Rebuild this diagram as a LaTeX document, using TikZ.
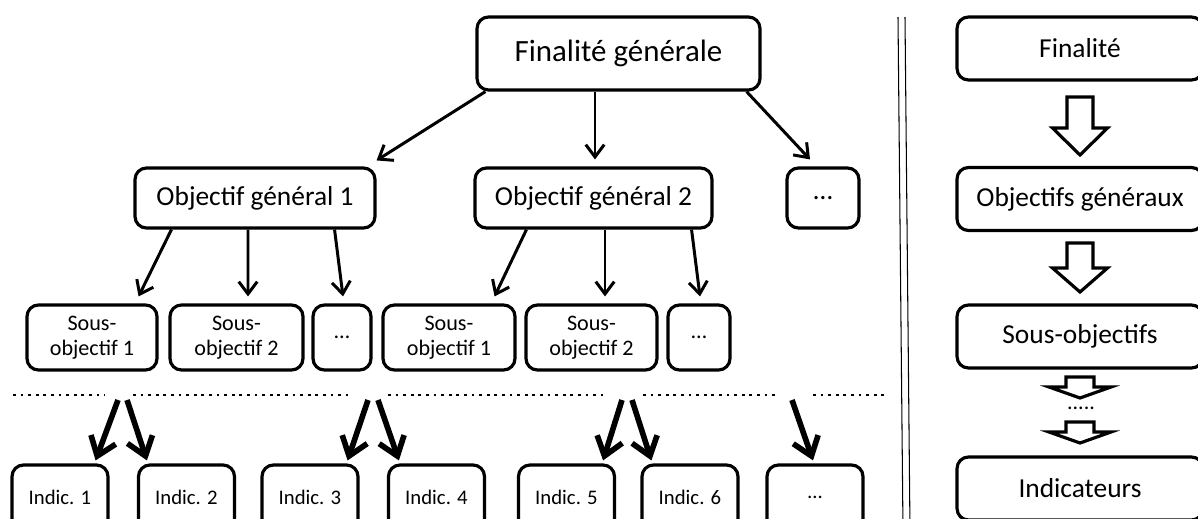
\documentclass[tikz,border=0pt]{standalone}
\usepackage{fontspec}
\setmainfont{Carlito}
\usetikzlibrary{arrows.meta, positioning, calc}

\begin{document}
\begin{tikzpicture}[
        x=0.02cm, y=-0.02cm,
        box/.style={rectangle, draw, line width=1.8pt, rounded corners=6.5pt, align=center, inner sep=0pt},
        big/.style={box, font=\fontsize{17.6pt}{21pt}\selectfont},
        mid/.style={box, font=\fontsize{15.6pt}{18pt}\selectfont, minimum height=1.2cm},
        sub/.style={box, font=\fontsize{12.6pt}{14pt}\selectfont, minimum height=1.3cm},
        ind/.style={box, font=\fontsize{11.8pt}{14pt}\selectfont, minimum height=1.3cm, minimum width=1.92cm},
        side/.style={box, font=\fontsize{15.6pt}{18pt}\selectfont, minimum height=1.26cm, minimum width=4.92cm},
        arrow/.style={line width=1.7pt, -{Straight Barb[length=7pt, width=10.5pt]}},
        bigarrow/.style={line width=3.2pt, -{Straight Barb[length=10pt, width=15pt]}},
        dotline/.style={line width=0.055cm, dash pattern=on 0.055cm off 0.097cm},
        hollow/.style={draw, line width=1.8pt, line join=miter, fill=white}
    ]
        \useasboundingbox (0,0) rectangle (1198,518);
        \clip (0,0) rectangle (1198,518);

        \node[big, minimum width=5.66cm, minimum height=1.46cm] (fin) at (618.5,53.5) {Finalité générale};

        \node[mid, minimum width=4.8cm] (obj1) at (255,198) {Objectif général 1};
        \node[mid, minimum width=4.74cm] (obj2) at (593.5,198) {Objectif général 2};
        \node[mid, minimum width=1.44cm] (objdots) at (823,198) {…};

        \node[sub, minimum width=2.6cm] (s11) at (92,337.5) {Sous-\\objectif 1};
        \node[sub, minimum width=2.66cm] (s12) at (236.5,337.5) {Sous-\\objectif 2};
        \node[sub, minimum width=1.16cm] (s1d) at (342,337.5) {…};
        \node[sub, minimum width=2.64cm] (s21) at (449,337.5) {Sous-\\objectif 1};
        \node[sub, minimum width=2.62cm] (s22) at (591.5,337.5) {Sous-\\objectif 2};
        \node[sub, minimum width=1.24cm] (s2d) at (699,337.5) {…};

        \node[ind] (i1) at (60,497.5) {Indic. 1};
        \node[ind] (i2) at (186.5,497.5) {Indic. 2};
        \node[ind] (i3) at (310,497.5) {Indic. 3};
        \node[ind] (i4) at (436.5,497.5) {Indic. 4};
        \node[ind] (i5) at (566.5,497.5) {Indic. 5};
        \node[ind] (i6) at (690,497.5) {Indic. 6};
        \node[ind] (idots) at (815,497.5) {…};

        \draw[arrow] ($(fin.south west)+(10,0)$) -- ($(obj1.north east)+(0,-6)$);
        \draw[arrow] ($(obj2.north |- fin.south)+(1.5,0)$) -- ($(obj2.north)+(1.5,-7)$);
        \draw[arrow] ($(fin.south east)+(-15,0)$) -- ($(objdots.north)+(-13,-7)$);

        \draw[arrow] ($(obj1.south west)+(38,0)$) -- ($(s11.north east)+(-20,-7)$);
        \draw[arrow] ($(obj1.south)+(-7,0)$) -- ($(s12.north)+(11.5,-7)$);
        \draw[arrow] ($(obj1.south east)+(-42,0)$) -- ($(s1d.north)+(1,-7)$);
        \draw[arrow] ($(obj2.south west)+(53,0)$) -- ($(s21.north east)+(-22,-7)$);
        \draw[arrow] ($(obj2.south)+(11.5,0)$) -- ($(s22.north)+(13.5,-7)$);
        \draw[arrow] ($(obj2.south east)+(-22,0)$) -- ($(s2d.north)+(1,-7)$);

        \draw[dotline] (13,395) -- (105,395);
        \draw[dotline] (133,395) -- (353,395);
        \draw[dotline] (388,395) -- (607,395);
        \draw[dotline] (643,395) -- (777,395);
        \draw[dotline] (813,395) -- (887,395);

        \coordinate (g1) at (122,400);
        \coordinate (g2) at (373,400);
        \coordinate (g3) at (627,400);
        \coordinate (g4) at (792,400);
        \draw[bigarrow] ($(g1)+(-4,0)$) -- ($(i1.north east)+(-14,-3)$);
        \draw[bigarrow] ($(g1)+(5,0)$) -- ($(i2.north west)+(10,-3)$);
        \draw[bigarrow] ($(g2)+(-5,0)$) -- ($(i3.north east)+(-12,-3)$);
        \draw[bigarrow] ($(g2)+(5,0)$) -- ($(i4.north west)+(12,-3)$);
        \draw[bigarrow] ($(g3)+(-5,0)$) -- ($(i5.north east)+(-13,-3)$);
        \draw[bigarrow] ($(g3)+(5,0)$) -- ($(i6.north west)+(11,-3)$);
        \draw[bigarrow] (g4) -- ($(idots.north)+(-2,-3)$);

        \draw[line width=0.6pt] (898,17) -- (903,530);
        \draw[line width=0.6pt] (905,17) -- (910,530);

        \node[side] (rfin) at (1080,48.5) {Finalité};
        \node[side] (robj) at (1080,199) {Objectifs généraux};
        \node[side] (rsous) at (1080,336.5) {Sous-objectifs};
        \node[side] (rind) at (1080,488.5) {Indicateurs};
        \node[font=\fontsize{12.5pt}{14pt}\selectfont, anchor=base, inner sep=0pt] (rdots) at (1081,409) {.....};

        \foreach \t/\n/\p/\s/\h in {97/128/155/13/27.5, 243/268/292/13/27.5, 377/387/398/14/31, 422/432/443/14/31}
            \draw[hollow] (1080-\s,\t) -- (1080+\s,\t) -- (1080+\s,\n) -- (1080+\h,\n)
                -- (1080,\p) -- (1080-\h,\n) -- (1080-\s,\n) -- cycle;
    \end{tikzpicture}
\end{document}
